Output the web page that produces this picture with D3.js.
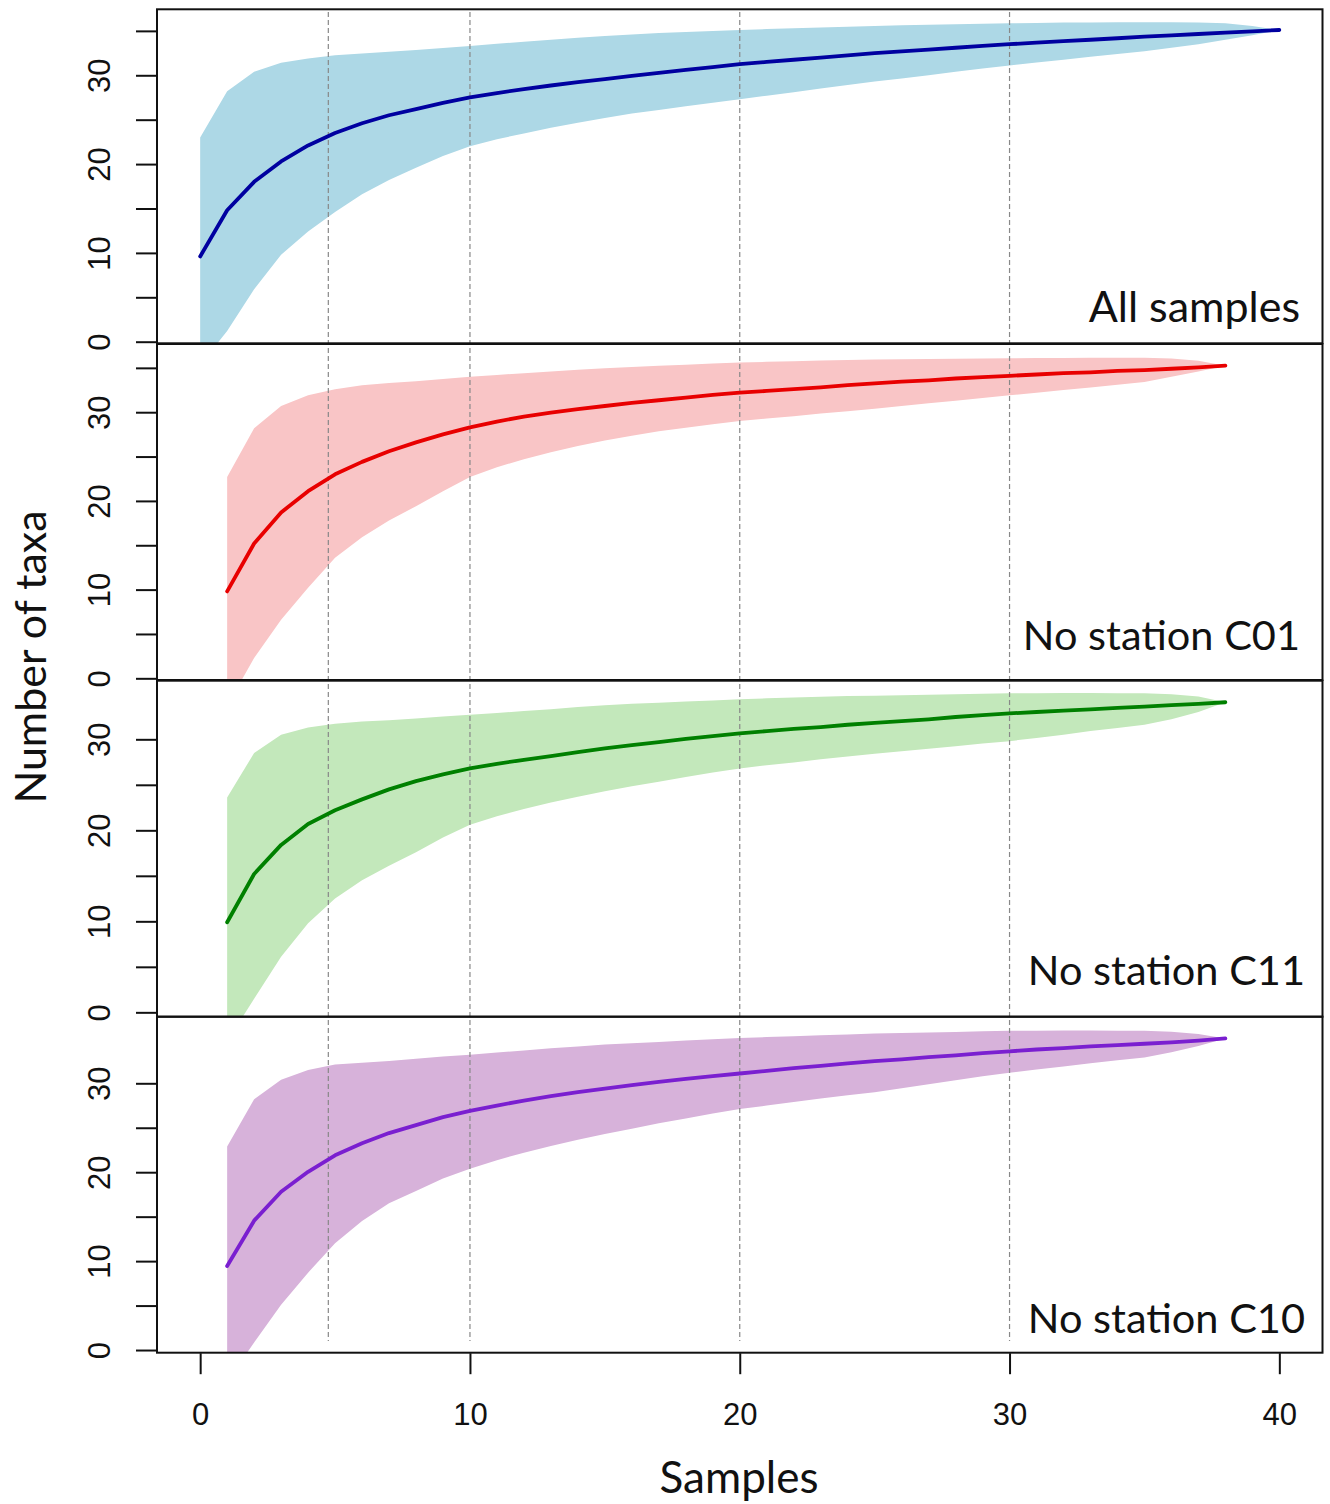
<!DOCTYPE html>
<html><head><meta charset="utf-8">
<script src="https://cdn.jsdelivr.net/npm/d3@7"></script>
<style>body{margin:0;background:#fff}svg{display:block}</style>
</head><body><svg id="chart" width="1330" height="1504"></svg>
<script>
// ---------------- DATA ----------------
const panelNames = ["All samples", "No station C01", "No station C11", "No station C10"];
const firstSample = [0, 1, 1, 1];

// Panel 1: All samples (samples 0..40)
const allMean  = [9.6,14.8,18.0,20.3,22.1,23.5,24.6,25.5,26.2,26.9,27.5,28.0,28.45,28.85,29.22,29.58,29.93,30.27,30.6,30.93,31.25,31.5,31.75,32.0,32.25,32.5,32.7,32.9,33.1,33.3,33.5,33.67,33.84,34.0,34.17,34.35,34.5,34.65,34.8,34.95,35.1];
const allUpper = [23.0,28.2,30.4,31.4,31.9,32.25,32.45,32.65,32.85,33.07,33.3,33.55,33.78,34.0,34.22,34.42,34.6,34.75,34.88,35.0,35.1,35.2,35.3,35.38,35.46,35.55,35.62,35.68,35.74,35.8,35.85,35.9,35.93,35.95,35.97,35.98,35.98,35.95,35.85,35.55,35.1];
const allLower = [-2.6,1.2,5.9,9.8,12.4,14.6,16.6,18.2,19.6,20.9,22.0,22.8,23.45,24.1,24.65,25.2,25.7,26.1,26.5,26.9,27.3,27.7,28.1,28.5,28.9,29.3,29.65,30.0,30.4,30.75,31.1,31.45,31.75,32.1,32.4,32.7,33.1,33.5,34.0,34.5,35.1];

// Panel 2: No station C01 (samples 1..38)
const c01Mean  = [9.8,15.2,18.7,21.1,23.0,24.4,25.6,26.6,27.5,28.3,28.95,29.5,29.95,30.35,30.7,31.05,31.35,31.65,31.95,32.2,32.4,32.6,32.8,33.05,33.25,33.45,33.6,33.8,33.95,34.1,34.25,34.4,34.5,34.65,34.75,34.9,35.05,35.25];
const c01Upper = [22.7,28.2,30.7,31.9,32.6,33.05,33.3,33.5,33.75,34.0,34.2,34.4,34.6,34.8,34.95,35.1,35.25,35.35,35.5,35.6,35.68,35.75,35.82,35.88,35.93,35.97,36.0,36.03,36.06,36.08,36.1,36.12,36.14,36.15,36.15,36.05,35.8,35.25];
const c01Lower = [-3.1,2.3,6.6,10.2,13.6,15.9,17.8,19.4,21.1,22.7,23.8,24.7,25.5,26.2,26.8,27.35,27.85,28.25,28.65,29.0,29.3,29.55,29.85,30.1,30.4,30.7,31.0,31.3,31.6,31.9,32.2,32.5,32.8,33.1,33.4,34.0,34.6,35.25];

// Panel 3: No station C11 (samples 1..38)
const c11Mean  = [9.9,15.2,18.4,20.7,22.2,23.4,24.5,25.4,26.15,26.8,27.3,27.75,28.15,28.6,29.0,29.35,29.7,30.05,30.35,30.65,30.9,31.15,31.35,31.6,31.8,32.0,32.2,32.45,32.65,32.85,33.0,33.15,33.3,33.45,33.6,33.75,33.9,34.07];
const c11Upper = [23.6,28.5,30.5,31.3,31.7,31.95,32.1,32.3,32.5,32.7,32.9,33.1,33.3,33.55,33.75,33.9,34.03,34.15,34.27,34.4,34.5,34.6,34.68,34.75,34.8,34.85,34.9,34.95,35.0,35.05,35.07,35.08,35.08,35.07,35.05,34.95,34.7,34.07];
const c11Lower = [-3.2,1.5,6.1,9.8,12.5,14.5,16.1,17.6,19.2,20.6,21.55,22.35,23.05,23.7,24.3,24.85,25.35,25.85,26.35,26.8,27.15,27.45,27.8,28.1,28.4,28.7,28.95,29.25,29.55,29.8,30.15,30.5,30.9,31.25,31.6,32.2,33.0,34.07];

// Panel 4: No station C10 (samples 1..38)
const c10Mean  = [9.45,14.55,17.8,20.05,21.9,23.25,24.4,25.3,26.2,26.9,27.5,28.05,28.55,29.0,29.4,29.8,30.15,30.5,30.8,31.1,31.4,31.7,31.95,32.25,32.5,32.7,32.95,33.15,33.4,33.6,33.8,33.95,34.15,34.3,34.45,34.6,34.8,35.05];
const c10Upper = [22.9,28.2,30.4,31.5,32.1,32.3,32.5,32.75,33.0,33.2,33.45,33.7,33.95,34.15,34.35,34.5,34.65,34.8,34.95,35.1,35.2,35.3,35.4,35.5,35.6,35.65,35.72,35.78,35.84,35.9,35.92,35.93,35.93,35.92,35.9,35.8,35.55,35.05];
const c10Lower = [-3.55,0.85,5.1,8.7,12.0,14.5,16.5,17.9,19.3,20.4,21.35,22.2,22.95,23.65,24.3,24.9,25.5,26.05,26.6,27.1,27.5,27.9,28.3,28.65,29.0,29.45,29.9,30.35,30.8,31.2,31.55,31.9,32.25,32.6,32.9,33.5,34.2,35.05];

const meanSeries  = [allMean, c01Mean, c11Mean, c10Mean];
const upperSeries = [allUpper, c01Upper, c11Upper, c10Upper];
const lowerSeries = [allLower, c01Lower, c11Lower, c10Lower];

const xTickValues = [0, 10, 20, 30, 40];
const yLabelValues = [0, 10, 20, 30];
const yTickValues = [
  [0, 5, 10, 15, 20, 25, 30, 35],
  [0, 5, 10, 15, 20, 25, 30, 35],
  [0, 5, 10, 15, 20, 25, 30],
  [0, 5, 10, 15, 20, 25, 30]
];
const referenceLines = [4.75, 10, 20, 30];
const xTitle = "Samples";
const yTitle = "Number of taxa";

// ---------------- LAYOUT / STYLE ----------------
const bandColors = ["#add8e6", "#f9c5c6", "#c3e8bb", "#d7b2da"];
const lineColors = ["#0000a0", "#e80000", "#008000", "#7a1fd0"];
const panels = [
  {top: 9.3,   bottom: 343.3,  yMin: -0.18, yMax: 37.43, labelY: 322,  labelX: 1300, labelSize: 43},
  {top: 344,   bottom: 680,    yMin: -0.19, yMax: 37.69, labelY: 650,  labelX: 1300, labelSize: 41.5},
  {top: 680.7, bottom: 1016.7, yMin: -0.48, yMax: 36.44, labelY: 985,  labelX: 1305, labelSize: 41.5},
  {top: 1016.7,bottom: 1352.7, yMin: -0.30, yMax: 37.49, labelY: 1333, labelX: 1305, labelSize: 41.5}
];
const plotLeft = 157, plotRight = 1322.5;
const tickFont = "'Liberation Sans', Arial, sans-serif";
const labelFont = "Lato, 'Open Sans', sans-serif";

const svg = d3.select("#chart");
svg.append("rect").attr("width", 1330).attr("height", 1504).attr("fill", "#fff");

const x = d3.scaleLinear().domain([-1.6, 41.6]).range([plotLeft, plotRight]);

const yScales = panels.map(p => d3.scaleLinear().domain([p.yMin, p.yMax]).range([p.bottom, p.top]));

const defs = svg.append("defs");
panels.forEach((p, i) => {
  defs.append("clipPath").attr("id", "clip" + i)
    .append("rect").attr("x", plotLeft).attr("y", p.top)
    .attr("width", plotRight - plotLeft).attr("height", p.bottom - p.top);
});

// bands
panels.forEach((p, i) => {
  const y = yScales[i];
  const pts = meanSeries[i].map((m, k) => ({s: firstSample[i] + k, m, u: upperSeries[i][k], l: lowerSeries[i][k]}));
  const area = d3.area().x(d => x(d.s)).y0(d => y(d.l)).y1(d => y(d.u));
  svg.append("path").datum(pts)
    .attr("clip-path", `url(#clip${i})`)
    .attr("d", area).attr("fill", bandColors[i]);
});

// dashed reference lines across all panels
svg.append("g").selectAll("line").data(referenceLines).join("line")
  .attr("x1", d => x(d)).attr("x2", d => x(d))
  .attr("y1", 12).attr("y2", 1341)
  .attr("stroke", "#888").attr("stroke-width", 1.2)
  .attr("stroke-dasharray", "5,3");

// mean lines
panels.forEach((p, i) => {
  const y = yScales[i];
  const pts = meanSeries[i].map((m, k) => ({s: firstSample[i] + k, m}));
  const line = d3.line().x(d => x(d.s)).y(d => y(d.m));
  svg.append("path").datum(pts)
    .attr("clip-path", `url(#clip${i})`)
    .attr("d", line).attr("fill", "none")
    .attr("stroke", lineColors[i]).attr("stroke-width", 3.8)
    .attr("stroke-linejoin", "round").attr("stroke-linecap", "round");
});

// y axes
panels.forEach((p, i) => {
  const y = yScales[i];
  const gt = svg.append("g").attr("transform", `translate(${plotLeft},0)`)
    .call(d3.axisLeft(y).tickValues(yTickValues[i]).tickSize(21).tickFormat(""));
  gt.select(".domain").remove();
  gt.selectAll(".tick line").attr("stroke", "#111").attr("stroke-width", 2);

  const gl = svg.append("g").attr("transform", `translate(${plotLeft},0)`)
    .call(d3.axisLeft(y).tickValues(yLabelValues).tickSize(0).tickFormat(d3.format("d")));
  gl.select(".domain").remove();
  gl.selectAll(".tick line").remove();
  gl.selectAll(".tick text")
    .attr("x", 0).attr("y", -47).attr("dy", 0)
    .attr("transform", "rotate(-90)")
    .attr("text-anchor", "middle")
    .attr("font-family", tickFont).attr("font-size", 31).attr("fill", "#111");
});

// x axis
const gx = svg.append("g").attr("transform", `translate(0,${panels[3].bottom + 0.5})`)
  .call(d3.axisBottom(x).tickValues(xTickValues).tickSize(21).tickPadding(29).tickFormat(d3.format("d")));
gx.select(".domain").remove();
gx.selectAll(".tick line").attr("stroke", "#111").attr("stroke-width", 2);
gx.selectAll(".tick text").attr("font-family", tickFont).attr("font-size", 31).attr("fill", "#111");

// panel frames
panels.forEach((p, i) => {
  svg.append("rect").attr("x", plotLeft).attr("y", p.top)
    .attr("width", plotRight - plotLeft).attr("height", p.bottom - p.top)
    .attr("fill", "none").attr("stroke", "#111").attr("stroke-width", 2);
});

// panel labels
panels.forEach((p, i) => {
  svg.append("text").attr("x", p.labelX).attr("y", p.labelY)
    .attr("text-anchor", "end")
    .attr("font-family", labelFont).attr("font-size", p.labelSize).attr("fill", "#111")
    .text(panelNames[i]);
});

// axis titles
svg.append("text")
  .attr("transform", "translate(46,657) rotate(-90)")
  .attr("text-anchor", "middle")
  .attr("font-family", labelFont).attr("font-size", 43).attr("fill", "#111")
  .text(yTitle);
svg.append("text").attr("x", 739).attr("y", 1493)
  .attr("text-anchor", "middle")
  .attr("font-family", labelFont).attr("font-size", 44).attr("fill", "#111")
  .text(xTitle);
</script>
</body></html>
